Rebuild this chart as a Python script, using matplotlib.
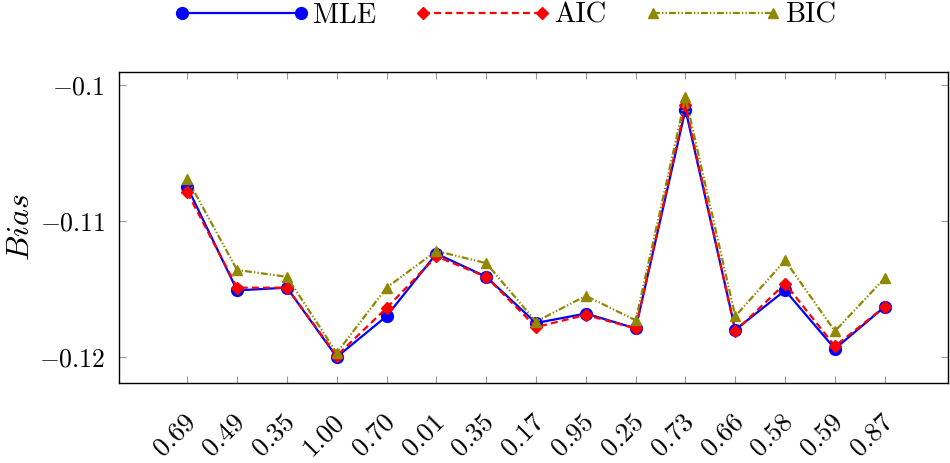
import matplotlib
matplotlib.use('Agg')
import matplotlib.pyplot as plt
import matplotlib.transforms as mtransforms
from matplotlib.ticker import FixedLocator, FixedFormatter

plt.rcParams['font.family'] = ['cmr10']
plt.rcParams['mathtext.fontset'] = 'cm'
plt.rcParams['axes.formatter.use_mathtext'] = True
plt.rcParams['lines.scale_dashes'] = False

# data
labels = ['0.69', '0.49', '0.35', '1.00', '0.70', '0.01', '0.35', '0.17',
          '0.95', '0.25', '0.73', '0.66', '0.58', '0.59', '0.87']
mle = [-0.1075, -0.1151, -0.1149, -0.1200, -0.1170, -0.1124, -0.1141, -0.1175,
       -0.1168, -0.1179, -0.1018, -0.1180, -0.1151, -0.1194, -0.1163]
aic = [-0.1079, -0.1149, -0.1149, -0.1199, -0.1164, -0.1126, -0.1141, -0.1178,
       -0.1169, -0.1179, -0.1015, -0.1181, -0.1146, -0.1192, -0.1163]
bic = [-0.1069, -0.1136, -0.1141, -0.1197, -0.1149, -0.1122, -0.1131, -0.1174,
       -0.1155, -0.1173, -0.1009, -0.1170, -0.1129, -0.1181, -0.1142]
yticks = [-0.12, -0.11, -0.1]
ytick_labels = [r'$-0.12$', r'$-0.11$', r'$-0.1$']

x = list(range(len(labels)))
olive = '#8f8800'

fig = plt.figure(figsize=(9.5, 4.63), dpi=100)
ax = fig.add_axes([0.1253, 0.1728, 0.8726, 0.6717])

ax.plot(x, mle, color='blue', lw=1.6, marker='o', ms=8.5, label='MLE')
ax.plot(x, aic, color='red', lw=1.6, ls=(0, (5, 3)), marker='D', ms=6,
        label='AIC')
ax.plot(x, bic, color=olive, lw=1.6, ls=(0, (5, 1.5, 1, 1.5, 1, 1.5)),
        marker='^', ms=7.5, label='BIC')

ax.set_xlim(-1.37, 15.27)
ax.set_ylim(-0.12191, -0.09904)

ax.xaxis.set_major_locator(FixedLocator(x))
ax.xaxis.set_major_formatter(FixedFormatter(labels))
ax.yaxis.set_major_locator(FixedLocator(yticks))
ax.yaxis.set_major_formatter(FixedFormatter(ytick_labels))

ax.tick_params(axis='both', direction='in', length=5, width=0.8,
               color='#999999', top=True, right=True)
ax.tick_params(axis='y', pad=10, labelsize=18.5)
ax.tick_params(axis='x', pad=25, labelsize=19.5)
offset = mtransforms.ScaledTranslation(4 / 100, 0, fig.dpi_scale_trans)
for lab in ax.get_xticklabels():
    lab.set_rotation(45)
    lab.set_ha('right')
    lab.set_va('center')
    lab.set_rotation_mode('anchor')
    lab.set_transform(lab.get_transform() + offset)

for sp in ax.spines.values():
    sp.set_linewidth(1.0)

ax.set_ylabel(r'$Bias$', fontsize=23)
ax.yaxis.set_label_coords(-0.101, 0.5)

fig.legend(loc='center', bbox_to_anchor=(0.531, 0.966), ncol=3,
           frameon=False, fontsize=20.5, numpoints=2, handlelength=4.8,
           handletextpad=0.12, columnspacing=1.33, borderaxespad=0)

fig.savefig('out.png', dpi=100)
